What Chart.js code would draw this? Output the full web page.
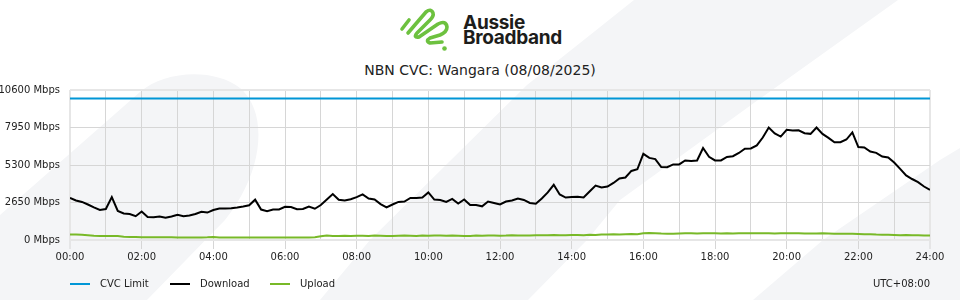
<!DOCTYPE html>
<html>
<head>
<meta charset="utf-8">
<script src="https://cdn.jsdelivr.net/npm/chart.js@4.4.1/dist/chart.umd.min.js"></script>
<style>
    body { margin: 0; }
    #wrap { position: relative; width: 960px; height: 300px; overflow: hidden; background: #fff; font-family: 'DejaVu Sans', sans-serif; color: #222; }
    #bg { position: absolute; left: 0; top: 0; }
    #chart { position: absolute; left: 0; top: 0; }
    .brand { position: absolute; left: 463px; top: 15px; font-family: Inter, sans-serif; font-weight: 700; font-size: 19px; line-height: 15px; letter-spacing: -0.3px; color: #1d1d1b; }
    .title { position: absolute; left: 0; top: 61px; width: 960px; text-align: center; font-size: 14px; line-height: 18px; }
    .legend { position: absolute; top: 277px; left: 70px; font-size: 10px; line-height: 14px; }
    .legend .item { position: absolute; top: 0; white-space: nowrap; }
    .legend .swatch { position: absolute; top: 6px; left: 0; width: 20px; height: 2px; }
    .legend .label { position: absolute; left: 30px; top: 0; }
    .tz { position: absolute; top: 277px; right: 30px; font-size: 10px; line-height: 14px; }
</style>
</head>
<body>
<div id="wrap">
    <svg id="bg" width="960" height="300">
        <g fill="#f4f5f7">
            <path d="M0 215 L140 92 C165 70 215 68 240 88 C268 112 265 170 225 220 L147 300 L0 300 Z"/>
            <path d="M634 0 L898 0 L758 100 L620 200 L587 240 L528 300 L320 300 L370 240 L527 85 L580 43 Z"/>
            <path d="M753 300 L823 240 L940 160 L960 148 L960 300 Z"/>
        </g>
        <g fill="none" stroke="#6dc13f" stroke-width="3.6" stroke-linecap="round" stroke-linejoin="round">
            <path d="M402 29 L409 20"/>
            <path d="M408 33 L426 12 Q431 8 433 13 Q434 16 430 20 L417 33 Q413 38 419 37 L438 24 Q446 20 447 27 Q447 32 440 35 L430 38 Q425 41 430 43 L442 42"/>
        </g>
        <circle cx="444.5" cy="48.5" r="2.3" fill="#6dc13f"/>
    </svg>
    <div class="brand">Aussie<br>Broadband</div>
    <div class="title">NBN CVC: Wangara (08/08/2025)</div>
    <canvas id="chart" width="960" height="300"></canvas>
    <div class="legend" id="legend"></div>
    <div class="tz">UTC+08:00</div>
</div>
<script>
// 10 minute samples, 00:00 to 24:00
const stepMinutes = 10;
const cvcLimit = 10000;
const yTicks = [0, 2650, 5300, 7950, 10600];

const download = [
    2980, 2790, 2690, 2510, 2300, 2120, 2190, 3030, 2050, 1870,
    1840, 1680, 2010, 1630, 1610, 1660, 1570, 1660, 1780, 1680,
    1730, 1840, 1990, 1940, 2120, 2230, 2230, 2250, 2300, 2370,
    2450, 2850, 2150, 2040, 2160, 2160, 2350, 2330, 2180, 2190,
    2370, 2210, 2470, 2860, 3250, 2840, 2790, 2880, 3030, 3220,
    2930, 2860, 2540, 2300, 2510, 2690, 2720, 2970, 2970, 3000,
    3360, 2860, 2830, 2690, 2900, 2580, 2860, 2470, 2470, 2380,
    2720, 2620, 2510, 2720, 2790, 2930, 2830, 2620, 2560, 2930,
    3360, 3900, 3220, 3000, 3030, 3050, 3000, 3430, 3850, 3710,
    3780, 4030, 4350, 4420, 4880, 5000, 6090, 5800, 5720, 5160,
    5140, 5340, 5340, 5620, 5580, 5620, 6500, 5880, 5620, 5620,
    5870, 5920, 6150, 6450, 6470, 6680, 7240, 7950, 7530, 7310,
    7790, 7740, 7750, 7550, 7500, 7950, 7500, 7220, 6910, 6910,
    7100, 7600, 6570, 6540, 6250, 6160, 5900, 5830, 5480, 5030,
    4560, 4310, 4090, 3780, 3550
];

const upload = [
    390, 380, 370, 340, 300, 290, 290, 285, 280, 230,
    215, 205, 200, 200, 195, 195, 190, 190, 185, 185,
    180, 180, 185, 190, 210, 180, 175, 175, 175, 175,
    175, 175, 175, 175, 175, 175, 180, 180, 180, 180,
    185, 200, 260, 320, 280, 290, 300, 290, 300, 300,
    290, 310, 300, 290, 280, 300, 310, 300, 290, 320,
    300, 310, 320, 300, 310, 300, 290, 280, 310, 300,
    310, 320, 300, 310, 330, 320, 310, 320, 330, 340,
    330, 350, 340, 330, 360, 350, 340, 370, 360, 380,
    390, 400, 380, 400, 420, 410, 470, 500, 480, 460,
    450, 450, 460, 470, 470, 460, 470, 480, 470, 460,
    470, 460, 470, 480, 470, 470, 480, 470, 460, 470,
    470, 480, 470, 460, 460, 460, 470, 460, 450, 440,
    450, 440, 430, 410, 400, 380, 370, 370, 360, 340,
    350, 330, 340, 320, 320
];

const COLORS = {
    cvc: '#0096d6',
    download: '#000000',
    upload: '#78b928',
    grid: '#d6d6d6',
    edge: '#e6e6e6',
    text: '#222222'
};

const toPoints = (arr) => arr.map((v, i) => ({ x: i * stepMinutes, y: v }));
const pad = (n) => String(n).padStart(2, '0');

const datasets = [
    { label: 'CVC Limit', data: [{ x: 0, y: cvcLimit }, { x: 1440, y: cvcLimit }], borderColor: COLORS.cvc },
    { label: 'Download', data: toPoints(download), borderColor: COLORS.download },
    { label: 'Upload', data: toPoints(upload), borderColor: COLORS.upload }
].map(d => Object.assign(d, { borderWidth: 2, pointRadius: 0, tension: 0, fill: false }));

const tickFont = { family: 'DejaVu Sans', size: 10 };

new Chart(document.getElementById('chart').getContext('2d'), {
    type: 'line',
    data: { datasets },
    options: {
        responsive: false,
        animation: false,
        layout: { padding: { top: 90, right: 30, bottom: 40, left: 0 } },
        plugins: { legend: { display: false }, tooltip: { enabled: false } },
        scales: {
            x: {
                type: 'linear',
                min: 0,
                max: 1440,
                afterFit: (scale) => { scale.height = 20; },
                border: { display: false },
                grid: {
                    color: (ctx) => (ctx.index === 0 || ctx.index === 24) ? COLORS.edge : COLORS.grid,
                    lineWidth: (ctx) => (ctx.index === 0 || ctx.index === 24) ? 2 : 1,
                    tickColor: (ctx) => (ctx.tick && ctx.tick.value % 120 === 0) ? COLORS.grid : 'rgba(0,0,0,0)',
                    tickLength: 9,
                    tickWidth: 1
                },
                ticks: {
                    stepSize: 60,
                    autoSkip: false,
                    maxRotation: 0,
                    padding: 2,
                    color: COLORS.text,
                    font: tickFont,
                    callback: (v) => v % 120 === 0 ? pad(v / 60) + ':00' : ''
                }
            },
            y: {
                min: 0,
                max: 10600,
                afterFit: (scale) => { scale.width = 70; },
                afterBuildTicks: (scale) => { scale.ticks = yTicks.map(v => ({ value: v })); },
                border: { display: false },
                grid: {
                    drawTicks: false,
                    color: (ctx) => (ctx.index === 0 || ctx.index === yTicks.length - 1) ? COLORS.edge : COLORS.grid,
                    lineWidth: (ctx) => (ctx.index === 0 || ctx.index === yTicks.length - 1) ? 2 : 1
                },
                ticks: {
                    padding: 10,
                    color: COLORS.text,
                    font: tickFont,
                    callback: (v) => v + ' Mbps'
                }
            }
        }
    }
});

// html legend from the datasets
document.getElementById('legend').innerHTML = datasets.map((d, i) => `
    <div class="item" style="left:${i * 100}px">
        <div class="swatch" style="background:${d.borderColor}"></div>
        <div class="label">${d.label}</div>
    </div>
`).join('');
</script>
</body>
</html>
